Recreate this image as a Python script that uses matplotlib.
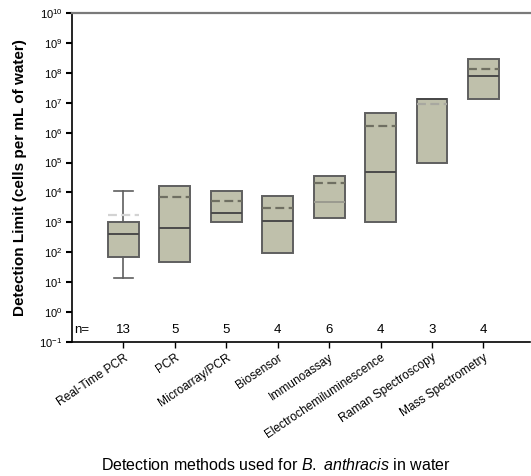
import matplotlib
matplotlib.use("Agg")
import matplotlib.pyplot as plt
from matplotlib.ticker import LogLocator, NullLocator

plt.rcParams['font.family'] = ['Liberation Sans', 'DejaVu Sans']
plt.rcParams['mathtext.fontset'] = 'custom'
plt.rcParams['mathtext.rm'] = 'Liberation Sans'
plt.rcParams['mathtext.it'] = 'Liberation Sans:italic'
plt.rcParams['mathtext.bf'] = 'Liberation Sans:bold'

methods = ["Real-Time PCR", "PCR", "Microarray/PCR", "Biosensor", "Immunoassay",
           "Electrochemiluminescence", "Raman Spectroscopy", "Mass Spectrometry"]
n_counts = [13, 5, 5, 4, 6, 4, 3, 4]
q1 = [70, 47, 1000, 95, 1400, 1000, 95000, 1.3e7]
q3 = [1000, 16000, 11000, 7600, 35000, 4.6e6, 1.3e7, 2.9e8]
medians = [400, 650, 2000, 1100, 4800, 48000, 1.3e7, 7.8e7]
means = [1700, 7000, 5100, 3000, 20000, 1.7e6, 9e6, 1.35e8]
whis_lo = [14, 47, 1000, 95, 1400, 1000, 95000, 1.3e7]
whis_hi = [11000, 16000, 11000, 7600, 35000, 4.6e6, 1.3e7, 2.9e8]

face = '#bfc0ab'
edge = '#5f5f5f'

fig = plt.figure(figsize=(5.31, 4.76), dpi=100)
ax = fig.add_axes([0.1356, 0.2815, 0.862, 0.6912])

stats = []
for i in range(len(methods)):
    stats.append(dict(label=methods[i], q1=q1[i], q3=q3[i], med=medians[i], mean=means[i],
                      whislo=whis_lo[i], whishi=whis_hi[i], fliers=[]))

pos = list(range(1, len(methods) + 1))
res = ax.bxp(stats, positions=pos, widths=0.6, patch_artist=True, showmeans=True, meanline=True,
             boxprops=dict(facecolor=face, edgecolor=edge, linewidth=1.4),
             medianprops=dict(color='#4a4a4a', linewidth=1.4),
             meanprops=dict(color='#6f6f62', linewidth=1.6, linestyle=(0, (4, 2))),
             whiskerprops=dict(color=edge, linewidth=1.2),
             capprops=dict(color=edge, linewidth=1.2), capwidths=0.37)

# only the first method has whiskers drawn
for i in range(1, len(methods)):
    for art in res['whiskers'][2 * i:2 * i + 2] + res['caps'][2 * i:2 * i + 2]:
        art.set_visible(False)

res['means'][0].set_color('#d3d3d3')
res['means'][6].set_color('#a8a8a0')
res['medians'][4].set_color('#9a9a90')

ax.set_yscale('log')
ax.set_ylim(1e-1, 1e10)
ax.set_xlim(0, 8.9)
ax.yaxis.set_major_locator(LogLocator(base=10, numticks=20))
ax.yaxis.set_minor_locator(NullLocator())

ax.set_xticks(pos)
ax.set_xticklabels(methods, rotation=34, ha='right', rotation_mode='anchor', fontsize=8.6)
ax.tick_params(axis='x', length=4, width=1, pad=3)
ax.tick_params(axis='y', length=4, width=1.5, labelsize=8, pad=3)

ax.spines['right'].set_visible(False)
ax.spines['top'].set_color('#7a7a7a')
ax.spines['top'].set_linewidth(1.6)
ax.spines['left'].set_linewidth(1.2)
ax.spines['bottom'].set_linewidth(1.2)

trans = ax.get_xaxis_transform()
ax.text(0.05, 0.035, "n=", transform=trans, fontsize=9.5, ha='left', va='center')
for p, n in zip(pos, n_counts):
    ax.text(p, 0.035, str(n), transform=trans, fontsize=9.5, ha='center', va='center')

ax.set_ylabel("Detection Limit (cells per mL of water)", fontsize=11, fontweight='bold', labelpad=9)
fig.text(0.52, 0.023, r"Detection methods used for $\mathit{B.}$ $\mathit{anthracis}$ in water",
         fontsize=11.5, ha='center', va='center')

fig.savefig("out.png", dpi=100)
